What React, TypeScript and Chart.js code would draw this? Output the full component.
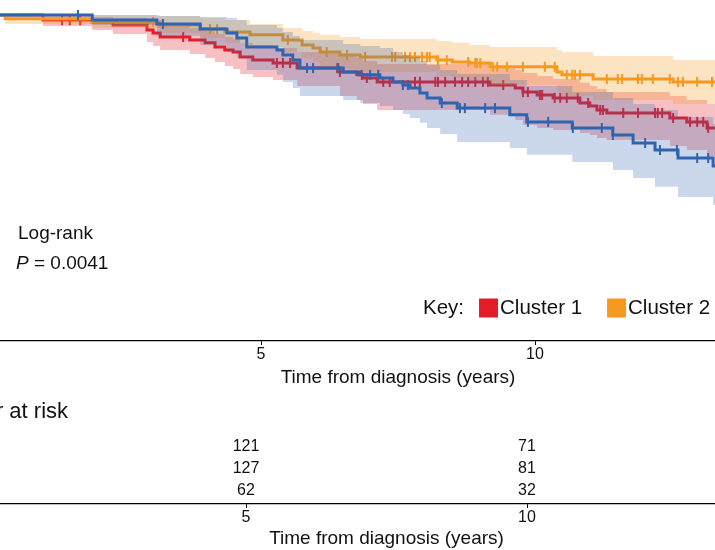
import React, { useEffect, useRef } from 'react';
import { Chart, registerables } from 'chart.js';

Chart.register(...registerables);

const FONT = "'Liberation Sans', Arial, Helvetica, sans-serif";

const clusterNames = ['Cluster 1', 'Cluster 2', 'Cluster 3'];
const clusterColors = ['#E41E28', '#F59A1F', '#2F64B0'];
const bandColors = ['rgba(228,30,40,0.28)', 'rgba(245,154,31,0.28)', 'rgba(47,100,176,0.25)'];

// Kaplan-Meier estimates: step times (years), survival after each step, 95% CI
const c1Times = [0, 1.02, 1.92, 2.30, 2.92, 3.03, 3.16, 3.70, 3.98, 4.16, 4.34, 4.49, 4.62, 4.85, 5.22, 5.66, 6.44, 6.75, 6.86, 7.12, 9.18, 9.64, 9.78, 10.04, 10.33, 10.82, 11.0, 11.13, 11.31, 12.46, 12.77, 13.14];
const c1Surv = [1.0, 0.984, 0.978, 0.969, 0.953, 0.944, 0.931, 0.922, 0.913, 0.9, 0.891, 0.884, 0.869, 0.859, 0.85, 0.834, 0.822, 0.813, 0.803, 0.791, 0.781, 0.772, 0.759, 0.75, 0.741, 0.725, 0.716, 0.703, 0.694, 0.678, 0.666, 0.647];
const c1Upper = [1.0, 0.997, 0.994, 0.991, 0.981, 0.975, 0.966, 0.959, 0.95, 0.941, 0.931, 0.925, 0.913, 0.906, 0.897, 0.884, 0.875, 0.866, 0.856, 0.847, 0.838, 0.828, 0.819, 0.809, 0.8, 0.788, 0.778, 0.769, 0.759, 0.747, 0.734, 0.722];
const c1Lower = [1.0, 0.966, 0.953, 0.941, 0.916, 0.903, 0.891, 0.878, 0.866, 0.853, 0.841, 0.831, 0.816, 0.806, 0.797, 0.778, 0.747, 0.734, 0.722, 0.703, 0.688, 0.672, 0.656, 0.647, 0.641, 0.631, 0.625, 0.616, 0.609, 0.591, 0.578, 0.559];
const c1Censored = [1.37, 1.51, 1.70, 3.58, 5.29, 5.40, 5.53, 6.39, 6.44, 6.84, 6.93, 7.23, 7.35, 7.81, 7.90, 8.18, 8.23, 8.36, 8.54, 8.67, 8.78, 8.91, 9.05, 9.14, 9.42, 9.78, 9.87, 10.09, 10.13, 10.36, 10.46, 10.58, 10.78, 10.97, 11.19, 11.24, 11.61, 11.88, 12.19, 12.24, 12.32, 12.52, 12.83, 12.96, 13.07, 13.16];

const c2Times = [0, 0.33, 1.92, 3.16, 3.89, 4.34, 4.80, 5.40, 5.75, 5.95, 6.08, 6.44, 6.81, 8.21, 8.49, 8.81, 9.18, 10.40, 10.49, 11.06, 12.52];
const c2Surv = [1.0, 0.988, 0.978, 0.969, 0.956, 0.947, 0.938, 0.922, 0.906, 0.897, 0.884, 0.875, 0.869, 0.859, 0.853, 0.85, 0.838, 0.822, 0.813, 0.8, 0.791];
const c2Upper = [1.0, 1.0, 1.0, 0.997, 0.991, 0.984, 0.972, 0.959, 0.95, 0.944, 0.938, 0.931, 0.925, 0.919, 0.913, 0.906, 0.9, 0.891, 0.884, 0.872, 0.859];
const c2Lower = [1.0, 0.972, 0.959, 0.944, 0.928, 0.913, 0.9, 0.884, 0.866, 0.853, 0.841, 0.831, 0.822, 0.809, 0.803, 0.797, 0.781, 0.759, 0.747, 0.734, 0.722];
const c2Censored = [3.03, 4.07, 4.20, 5.49, 6.20, 6.57, 6.90, 7.39, 7.45, 7.63, 7.72, 7.81, 7.94, 8.03, 8.08, 8.23, 8.39, 8.78, 8.91, 8.94, 9.00, 9.23, 9.31, 9.49, 9.78, 10.18, 10.36, 10.58, 10.68, 10.73, 10.82, 11.31, 11.51, 11.59, 11.88, 11.95, 12.15, 12.46, 12.61, 12.70, 12.96, 13.23];

const c3Times = [0, 1.92, 3.10, 3.89, 4.38, 4.56, 4.74, 5.29, 5.40, 5.58, 5.71, 6.50, 6.81, 7.17, 7.41, 7.59, 7.72, 7.90, 8.03, 8.27, 8.58, 9.54, 9.85, 10.68, 11.42, 11.79, 12.19, 12.61, 13.25];
const c3Surv = [1.0, 0.984, 0.972, 0.956, 0.944, 0.928, 0.9, 0.891, 0.875, 0.859, 0.834, 0.822, 0.813, 0.803, 0.791, 0.781, 0.772, 0.756, 0.741, 0.725, 0.709, 0.688, 0.666, 0.647, 0.625, 0.6, 0.578, 0.553, 0.528];
const c3Upper = [1.0, 1.0, 0.997, 0.994, 0.991, 0.984, 0.969, 0.959, 0.947, 0.934, 0.922, 0.909, 0.903, 0.897, 0.884, 0.875, 0.869, 0.856, 0.844, 0.828, 0.816, 0.797, 0.778, 0.759, 0.741, 0.722, 0.703, 0.681, 0.659];
const c3Lower = [1.0, 0.969, 0.934, 0.906, 0.884, 0.866, 0.828, 0.813, 0.791, 0.772, 0.747, 0.734, 0.725, 0.716, 0.703, 0.691, 0.678, 0.663, 0.647, 0.628, 0.603, 0.584, 0.563, 0.541, 0.516, 0.491, 0.463, 0.431, 0.406];
const c3Censored = [1.66, 3.21, 5.84, 5.95, 6.41, 6.99, 7.14, 7.59, 7.68, 8.30, 8.63, 8.72, 9.09, 9.27, 9.87, 10.24, 10.69, 11.22, 11.42, 12.01, 12.28, 12.59, 12.96, 13.16];

// last follow-up time: each curve holds its final value until here
const followUpEnd = 13.6;

// number at risk table
const riskTimes = [5, 10];
const c1AtRisk = [121, 71];
const c2AtRisk = [127, 81];
const c3AtRisk = [62, 32];

const xTickStep = 5;
const xMax = 15;
const logRankP = '0.0041';
const xTitle = 'Time from diagnosis (years)';

type Pt = { x: number; y: number };

function stepPoints(times: number[], values: number[]): Pt[] {
  const pts = times.map((t, i) => ({ x: t, y: values[i] }));
  pts.push({ x: followUpEnd, y: values[values.length - 1] });
  return pts;
}

function survivalAt(times: number[], values: number[], t: number): number {
  let v = values[0];
  for (let i = 0; i < times.length; i++) {
    if (times[i] <= t) v = values[i];
  }
  return v;
}

const clusters = [
  { times: c1Times, surv: c1Surv, upper: c1Upper, lower: c1Lower, censored: c1Censored, atRisk: c1AtRisk },
  { times: c2Times, surv: c2Surv, upper: c2Upper, lower: c2Lower, censored: c2Censored, atRisk: c2AtRisk },
  { times: c3Times, surv: c3Surv, upper: c3Upper, lower: c3Lower, censored: c3Censored, atRisk: c3AtRisk },
];

function buildKmDatasets(): any[] {
  const sets: any[] = [];
  clusters.forEach((c, i) => {
    sets.push({
      label: clusterNames[i] + ' CI upper',
      data: stepPoints(c.times, c.upper),
      stepped: true,
      borderWidth: 0,
      borderColor: 'rgba(0,0,0,0)',
      backgroundColor: bandColors[i],
      pointRadius: 0,
      fill: '+1',
    });
    sets.push({
      label: clusterNames[i] + ' CI lower',
      data: stepPoints(c.times, c.lower),
      stepped: true,
      borderWidth: 0,
      borderColor: 'rgba(0,0,0,0)',
      pointRadius: 0,
      fill: false,
    });
    sets.push({
      label: clusterNames[i],
      data: stepPoints(c.times, c.surv),
      stepped: true,
      borderColor: clusterColors[i],
      borderWidth: 3,
      pointRadius: 0,
      fill: false,
    });
    sets.push({
      label: clusterNames[i] + ' censored',
      data: c.censored.map((t) => ({ x: t, y: survivalAt(c.times, c.surv, t) })),
      showLine: false,
      pointStyle: 'line',
      pointRadius: 5,
      pointRotation: 90,
      pointBorderWidth: 2,
      pointBorderColor: clusterColors[i],
      borderColor: clusterColors[i],
      fill: false,
    });
  });
  // draw cluster by cluster: band, then line, then censor ticks
  sets.forEach((s, idx) => {
    s.order = sets.length - idx;
  });
  return sets;
}

const kmAnnotations = {
  id: 'kmAnnotations',
  afterDraw(chart: any) {
    const { ctx, chartArea } = chart;
    const left = chartArea.left;
    const top = chartArea.top;
    ctx.save();
    ctx.fillStyle = '#111';
    ctx.textBaseline = 'middle';
    ctx.textAlign = 'left';

    ctx.font = `19px ${FONT}`;
    ctx.fillText('Log-rank', left + 31, top + 235);
    ctx.font = `italic 19px ${FONT}`;
    ctx.fillText('P', left + 29, top + 265);
    const pw = ctx.measureText('P').width;
    ctx.font = `19px ${FONT}`;
    ctx.fillText(' = ' + logRankP, left + 29 + pw, top + 265);

    // key
    const ky = top + 309;
    let kx = left + 436;
    ctx.font = `20.5px ${FONT}`;
    ctx.fillText('Key:', kx, ky);
    kx += ctx.measureText('Key:').width + 15;
    const sq = 19;
    clusterNames.forEach((name, i) => {
      ctx.fillStyle = clusterColors[i];
      ctx.fillRect(kx, ky - sq / 2, sq, sq);
      kx += sq + 2;
      ctx.fillStyle = '#111';
      ctx.fillText(name, kx, ky);
      kx += ctx.measureText(name).width + 25;
    });
    ctx.restore();
  },
};

const riskTable = {
  id: 'riskTable',
  afterDraw(chart: any) {
    const { ctx, chartArea, scales } = chart;
    ctx.save();
    ctx.fillStyle = '#111';
    ctx.textBaseline = 'middle';
    ctx.textAlign = 'left';
    ctx.font = `22px ${FONT}`;
    ctx.fillText('Number at risk', chartArea.left - 40, chartArea.top - 24);
    ctx.font = `16px ${FONT}`;
    ctx.textAlign = 'center';
    clusters.forEach((c, row) => {
      const y = scales.y.getPixelForValue(row + 1);
      riskTimes.forEach((t, j) => {
        ctx.fillText(String(c.atRisk[j]), scales.x.getPixelForValue(t), y);
      });
    });
    ctx.restore();
  },
};

function xAxis(height: number) {
  return {
    type: 'linear',
    min: 0,
    max: xMax,
    afterFit: (scale: any) => {
      scale.height = height;
    },
    grid: {
      display: true,
      drawOnChartArea: false,
      drawTicks: true,
      tickLength: 4,
      tickWidth: 1,
      color: '#000',
    },
    border: { display: true, color: '#000', width: 1.2 },
    ticks: {
      stepSize: xTickStep,
      padding: 0,
      color: '#111',
      font: { family: FONT, size: 16 },
      maxRotation: 0,
    },
    title: {
      display: true,
      text: xTitle,
      color: '#111',
      font: { family: FONT, size: 19 },
      padding: { top: 2, bottom: 4 },
    },
  };
}

export default function App() {
  const kmRef = useRef<HTMLCanvasElement | null>(null);
  const riskRef = useRef<HTMLCanvasElement | null>(null);

  useEffect(() => {
    if (!kmRef.current || !riskRef.current) return;
    const km = new Chart(kmRef.current, {
      type: 'line',
      data: { datasets: buildKmDatasets() },
      options: {
        responsive: false,
        animation: false,
        events: [],
        layout: { padding: { left: 100, right: 40, top: 10, bottom: 0 } },
        plugins: { legend: { display: false }, tooltip: { enabled: false } },
        scales: {
          x: xAxis(52) as any,
          y: { type: 'linear', min: -0.01875, max: 1.05, display: false },
        },
      },
      plugins: [kmAnnotations],
    });

    const risk = new Chart(riskRef.current, {
      type: 'line',
      data: { datasets: [] },
      options: {
        responsive: false,
        animation: false,
        events: [],
        layout: { padding: { left: 100, right: 40, top: 60, bottom: 0 } },
        plugins: { legend: { display: false }, tooltip: { enabled: false } },
        scales: {
          x: xAxis(50) as any,
          y: { type: 'linear', min: 0.5, max: 3.59, reverse: true, display: false },
        },
      },
      plugins: [riskTable],
    });

    return () => {
      km.destroy();
      risk.destroy();
    };
  }, []);

  return (
    <div
      style={{
        position: 'fixed',
        left: 0,
        top: 0,
        width: 715,
        height: 550,
        overflow: 'hidden',
        background: '#fff',
      }}
    >
      <canvas
        ref={kmRef}
        width={962}
        height={404}
        style={{ position: 'absolute', left: -113, top: -11, width: 962, height: 404 }}
      />
      <canvas
        ref={riskRef}
        width={983}
        height={178}
        style={{ position: 'absolute', left: -135, top: 376, width: 983, height: 178 }}
      />
    </div>
  );
}
